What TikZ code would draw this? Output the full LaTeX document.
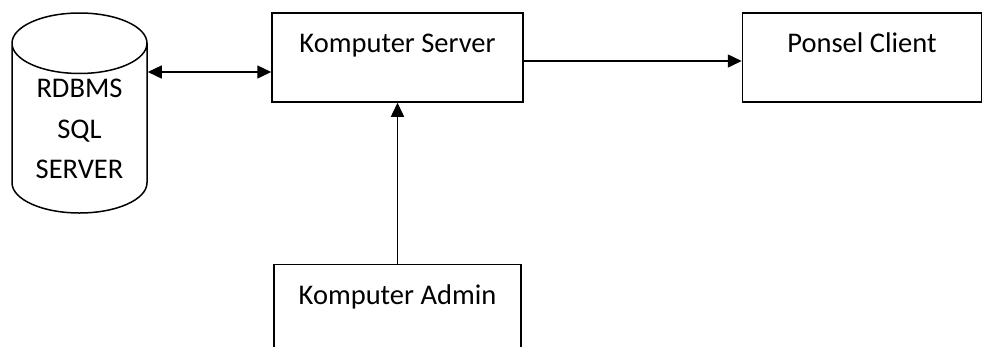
\documentclass[tikz,border=0pt]{standalone}
\usepackage{fontspec}
\setmainfont{Carlito}
\usetikzlibrary{arrows.meta,shapes.geometric,positioning}

\begin{document}
\begin{tikzpicture}[-,>={Triangle[length=14pt,width=13pt]},x=1pt,y=-1pt,line width=1.5pt]
  \tikzstyle{box}=[draw, rectangle, line width=1.5pt, inner sep=0pt, text height=39pt, text depth=50pt, minimum width=251pt, minimum height=89pt, font=\fontsize{28.5}{34}\selectfont]
  \tikzstyle{dbase}=[draw, cylinder, shape border rotate=90, aspect=0.69, minimum width=135pt, minimum height=200pt, line width=1.5pt, inner sep=0pt, align=center, text height=100.5pt, text depth=-100.5pt, font=\fontsize{28.5}{40.5}\selectfont]
  \clip (0,0) rectangle (982,346);
  \node[box] (server) at (397.5,57.5) {Komputer Server};
  \node[box, minimum width=239pt] (client) [right=218pt of server] {Ponsel Client};
  \node[box, minimum width=247pt, text height=40pt, text depth=49pt] (admin) [below=161pt of server] {Komputer Admin};
  \node[dbase, anchor=shape center] (db) at (79.5,113) {RDBMS\\SQL\\SERVER};
  % ports where the links meet the boxes
  \coordinate (sv in) at ([yshift=-14.5pt]server.west);
  \coordinate (sv out) at ([yshift=-3.5pt]server.east);
  \path (sv in -| db.east) edge[<->] (sv in)
        (sv out) edge[->] (sv out -| client.west)
        (admin) edge[->] (server);
\end{tikzpicture}
\end{document}
